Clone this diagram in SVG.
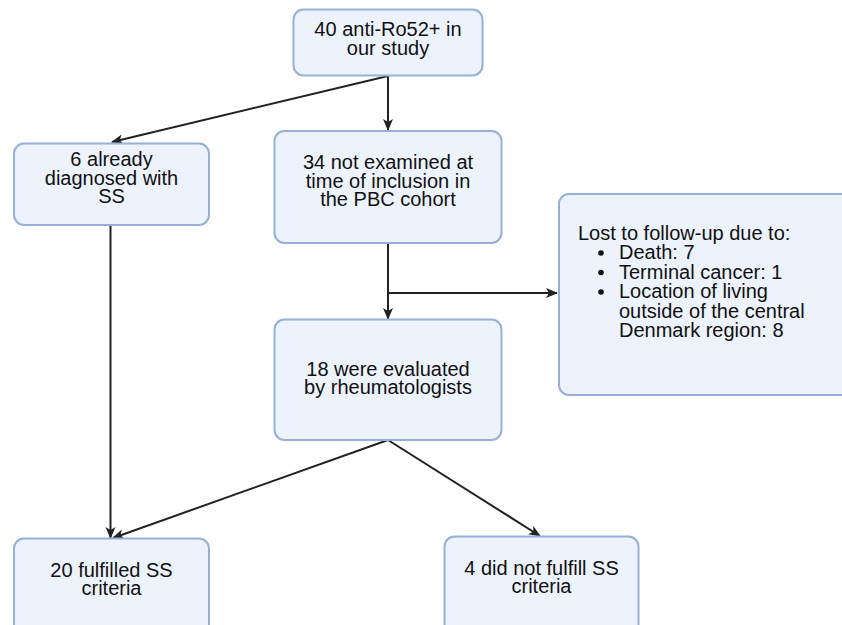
<svg xmlns="http://www.w3.org/2000/svg" width="842" height="625" viewBox="0 0 842 625">
<style>
.box{fill:#edf3fc;stroke:#97afd9;stroke-width:2}
.t{font-family:"Liberation Sans",Arial,Helvetica,sans-serif;font-size:20px;fill:#111;text-anchor:middle}
.tl{font-family:"Liberation Sans",Arial,Helvetica,sans-serif;font-size:20px;fill:#111}
.c{stroke:#222;stroke-width:2;fill:none;marker-end:url(#arr)}
</style>
<defs>
<marker id="arr" viewBox="0 0 12 12" refX="11" refY="6" markerWidth="12" markerHeight="12" markerUnits="userSpaceOnUse" orient="auto">
<path d="M0,1 L12,6 L0,11 L3,6 z" fill="#222"/>
</marker>
</defs>
<rect width="842" height="625" fill="#fff"/>
<g id="connectors">
<path class="c" d="M388,76 L388,130"/>
<path class="c" d="M388,76 L112,142"/>
<path class="c" d="M110.5,225 L110.5,538"/>
<path class="c" d="M388,243 L388,319"/>
<path class="c" d="M388,293 L557,293"/>
<path class="c" d="M388,440 L113,538"/>
<path class="c" d="M388,440 L540,536"/>
</g>
<g id="n40">
<rect class="box" x="293.5" y="9.5" width="189" height="66" rx="10"/>
<text class="t" x="388" y="36">40 anti-Ro52+ in</text>
<text class="t" x="388" y="55">our study</text>
</g>
<g id="n6">
<rect class="box" x="14" y="143.5" width="195" height="81.5" rx="10"/>
<text class="t" x="111.5" y="166">6 already</text>
<text class="t" x="111.5" y="184.5">diagnosed with</text>
<text class="t" x="111.5" y="203">SS</text>
</g>
<g id="n34">
<rect class="box" x="274.5" y="131" width="227" height="112" rx="10"/>
<text class="t" x="388" y="169">34 not examined at</text>
<text class="t" x="388" y="187.5">time of inclusion in</text>
<text class="t" x="388" y="206">the PBC cohort</text>
</g>
<g id="nlost">
<rect class="box" x="559" y="194" width="300" height="201" rx="10"/>
<text class="tl" x="578" y="240">Lost to follow-up due to:</text>
<circle cx="601" cy="253" r="2.8" fill="#111"/>
<circle cx="601" cy="272.5" r="2.8" fill="#111"/>
<circle cx="601" cy="292" r="2.8" fill="#111"/>
<text class="tl" x="619" y="259">Death: 7</text>
<text class="tl" x="619" y="278.5">Terminal cancer: 1</text>
<text class="tl" x="619" y="298">Location of living</text>
<text class="tl" x="619" y="317.5">outside of the central</text>
<text class="tl" x="619" y="337">Denmark region: 8</text>
</g>
<g id="n18">
<rect class="box" x="274.5" y="319.5" width="227" height="120.5" rx="10"/>
<text class="t" x="388" y="376">18 were evaluated</text>
<text class="t" x="388" y="394">by rheumatologists</text>
</g>
<g id="n20">
<rect class="box" x="14" y="538.5" width="195" height="100" rx="10"/>
<text class="t" x="111.5" y="577">20 fulfilled SS</text>
<text class="t" x="111.5" y="595">criteria</text>
</g>
<g id="n4">
<rect class="box" x="444.5" y="536.5" width="194" height="100" rx="10"/>
<text class="t" x="541.5" y="574.5">4 did not fulfill SS</text>
<text class="t" x="541.5" y="593">criteria</text>
</g>
</svg>
